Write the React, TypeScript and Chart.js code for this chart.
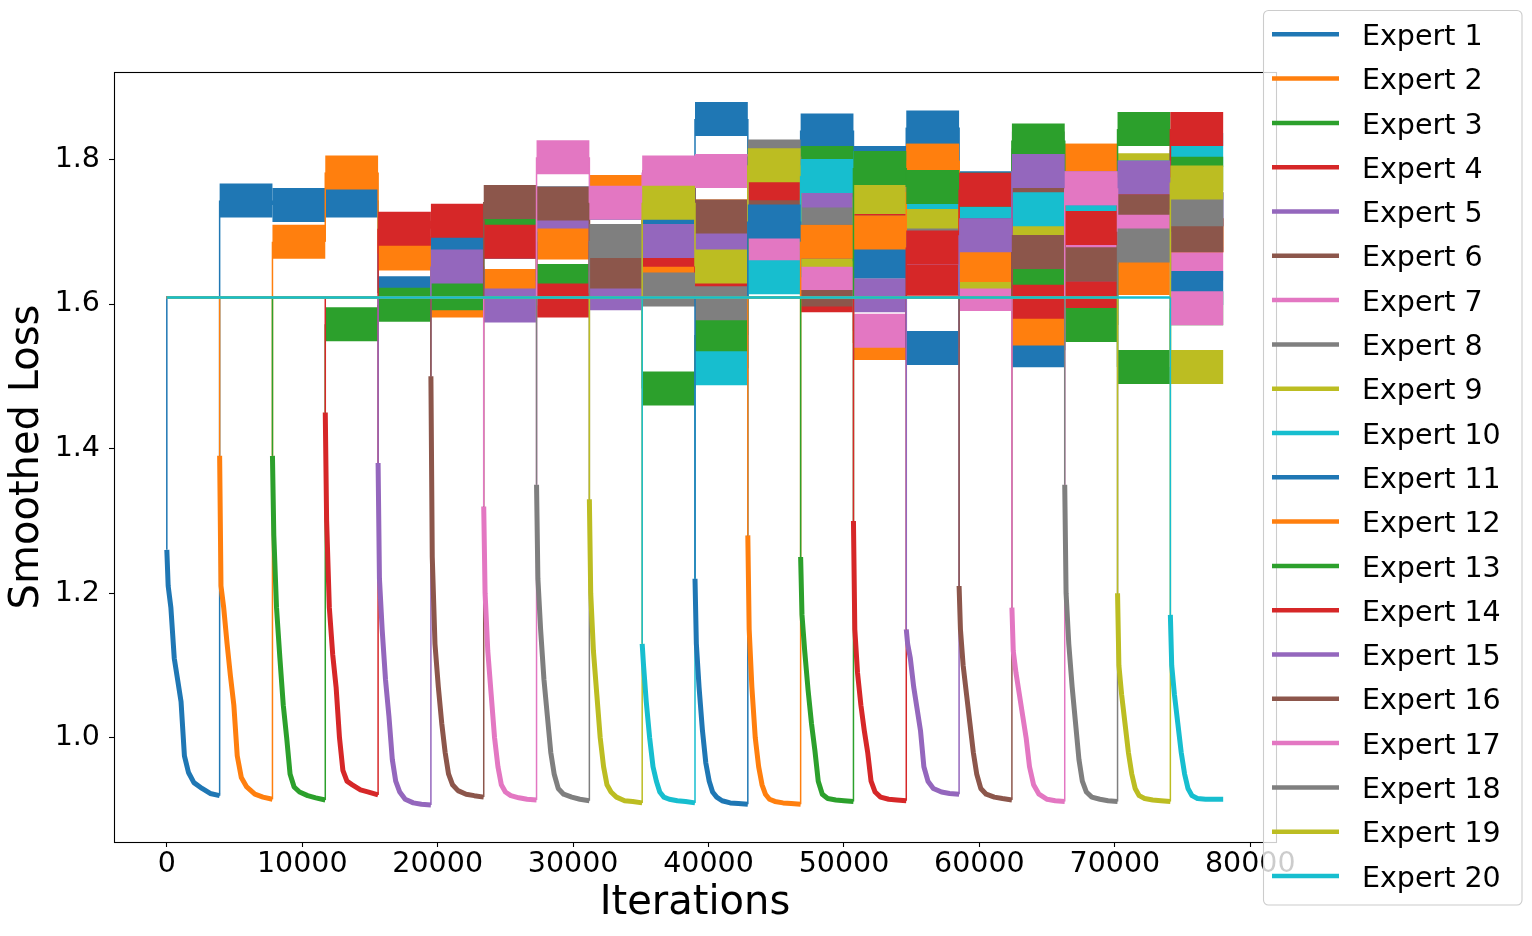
import React, { useEffect, useRef } from "react";
import { Chart, registerables } from "chart.js";

Chart.register(...registerables);

const expertNames = [
  "Expert 1", "Expert 2", "Expert 3", "Expert 4", "Expert 5",
  "Expert 6", "Expert 7", "Expert 8", "Expert 9", "Expert 10",
  "Expert 11", "Expert 12", "Expert 13", "Expert 14", "Expert 15",
  "Expert 16", "Expert 17", "Expert 18", "Expert 19", "Expert 20",
];

const expertColors = [
  "#1f77b4", "#ff7f0e", "#2ca02c", "#d62728", "#9467bd",
  "#8c564b", "#e377c2", "#7f7f7f", "#bcbd22", "#17becf",
  "#1f77b4", "#ff7f0e", "#2ca02c", "#d62728", "#9467bd",
  "#8c564b", "#e377c2", "#7f7f7f", "#bcbd22", "#17becf",
];

// iteration where each expert's training window starts (expert i trains in window i)
const segmentStarts = [
  0, 3900, 7800, 11700, 15600, 19500, 23400, 27300, 31200, 35100, 39000,
  42900, 46800, 50700, 54600, 58500, 62400, 66300, 70200, 74100, 78000,
];

// loss of an expert that has not been trained yet
const untrainedLoss = 1.609;

// iterations into the training window at which the decay curve is read
const decayOffsets = [0, 100, 300, 550, 800, 1050, 1300, 1600, 2000, 2600, 3200, 3900];

// smoothed loss during each expert's own training window
const decayLoss = [
  [1.26, 1.21, 1.18, 1.11, 1.08, 1.05, 0.975, 0.952, 0.938, 0.93, 0.923, 0.92],
  [1.39, 1.21, 1.18, 1.13, 1.085, 1.045, 0.975, 0.945, 0.932, 0.922, 0.918, 0.915],
  [1.39, 1.28, 1.18, 1.11, 1.045, 1.0, 0.95, 0.932, 0.925, 0.92, 0.917, 0.914],
  [1.45, 1.3, 1.18, 1.115, 1.07, 1.0, 0.955, 0.94, 0.935, 0.928, 0.925, 0.921],
  [1.38, 1.22, 1.15, 1.08, 1.03, 0.97, 0.94, 0.925, 0.915, 0.91, 0.908, 0.907],
  [1.5, 1.25, 1.13, 1.07, 1.02, 0.98, 0.95, 0.935, 0.927, 0.922, 0.92, 0.918],
  [1.32, 1.2, 1.12, 1.06, 1.0, 0.96, 0.935, 0.925, 0.92, 0.917, 0.915, 0.914],
  [1.35, 1.22, 1.15, 1.08, 1.03, 0.98, 0.95, 0.93, 0.922, 0.918, 0.915, 0.913],
  [1.33, 1.2, 1.12, 1.06, 1.0, 0.96, 0.935, 0.925, 0.918, 0.913, 0.912, 0.91],
  [1.13, 1.1, 1.05, 1.0, 0.96, 0.94, 0.925, 0.918, 0.915, 0.913, 0.912, 0.91],
  [1.22, 1.13, 1.07, 1.01, 0.965, 0.94, 0.925, 0.918, 0.913, 0.91, 0.909, 0.908],
  [1.28, 1.15, 1.07, 1.0, 0.96, 0.935, 0.922, 0.915, 0.912, 0.91, 0.909, 0.908],
  [1.25, 1.17, 1.12, 1.066, 1.02, 0.983, 0.94, 0.922, 0.916, 0.914, 0.913, 0.912],
  [1.3, 1.15, 1.09, 1.045, 1.01, 0.98, 0.94, 0.925, 0.918, 0.915, 0.914, 0.913],
  [1.15, 1.13, 1.11, 1.07, 1.04, 1.01, 0.96, 0.94, 0.93, 0.925, 0.923, 0.922],
  [1.21, 1.15, 1.1, 1.06, 1.02, 0.98, 0.95, 0.93, 0.922, 0.918, 0.916, 0.914],
  [1.18, 1.12, 1.09, 1.06, 1.03, 1.0, 0.96, 0.935, 0.922, 0.915, 0.913, 0.912],
  [1.35, 1.2, 1.13, 1.07, 1.02, 0.97, 0.94, 0.925, 0.918, 0.915, 0.913, 0.912],
  [1.2, 1.1, 1.06, 1.02, 0.98, 0.95, 0.93, 0.92, 0.916, 0.914, 0.913, 0.912],
  [1.17, 1.1, 1.06, 1.02, 0.98, 0.95, 0.93, 0.92, 0.916, 0.915, 0.915, 0.915],
];

// mean loss of each expert in every later window (noisy band in the plot)
const plateauLoss = [
  [1.743, 1.737, 1.743, 1.615, 1.683, 1.686, 1.739, 1.74, 1.728, 1.856, 1.792, 1.84, 1.795, 1.844, 1.76, 1.784, 1.76, 1.681, 1.731],
  [1.686, 1.782, 1.67, 1.605, 1.625, 1.685, 1.755, 1.65, 1.721, 1.714, 1.686, 1.546, 1.798, 1.654, 1.566, 1.798, 1.636, 1.695],
  [1.572, 1.599, 1.615, 1.7, 1.632, 1.63, 1.483, 1.557, 1.792, 1.795, 1.659, 1.762, 1.695, 1.635, 1.655, 1.513, 1.594],
  [1.704, 1.715, 1.686, 1.605, 1.686, 1.675, 1.625, 1.755, 1.612, 1.73, 1.635, 1.695, 1.672, 1.615, 1.681, 1.695],
  [1.652, 1.598, 1.728, 1.615, 1.687, 1.68, 1.714, 1.746, 1.612, 1.678, 1.695, 1.784, 1.655, 1.775, 1.731],
  [1.741, 1.739, 1.645, 1.762, 1.721, 1.72, 1.62, 1.699, 1.678, 1.695, 1.75, 1.655, 1.728, 1.695],
  [1.803, 1.74, 1.782, 1.784, 1.68, 1.643, 1.563, 1.678, 1.614, 1.672, 1.68, 1.681, 1.656],
  [1.687, 1.62, 1.601, 1.804, 1.71, 1.775, 1.7, 1.695, 1.815, 1.76, 1.681, 1.731],
  [1.74, 1.652, 1.792, 1.675, 1.748, 1.728, 1.645, 1.69, 1.705, 1.785, 1.513],
  [1.511, 1.637, 1.777, 1.788, 1.755, 1.727, 1.731, 1.735, 1.775, 1.813],
  [1.714, 1.686, 1.659, 1.539, 1.695, 1.536, 1.705, 1.681, 1.622],
  [1.686, 1.699, 1.798, 1.654, 1.566, 1.798, 1.636, 1.695],
  [1.788, 1.762, 1.758, 1.826, 1.571, 1.842, 1.78],
  [1.678, 1.758, 1.603, 1.705, 1.748, 1.842],
  [1.695, 1.784, 1.76, 1.775, 1.731],
  [1.672, 1.655, 1.728, 1.695],
  [1.76, 1.7, 1.594],
  [1.681, 1.731],
  [1.768],
  [],
];

const xTicks = [0, 10000, 20000, 30000, 40000, 50000, 60000, 70000, 80000];
const yTicks = [1.0, 1.2, 1.4, 1.6, 1.8];

const FONT = "'DejaVu Sans', sans-serif";

type Kind = "flat" | "drop" | "decay" | "step" | "band";
type Pt = { x: number; y: number; kind: Kind };

const widths: Record<Kind, number> = {
  flat: 2.5,
  drop: 1.5,
  decay: 5,
  step: 1.5,
  band: 34,
};

function buildSeries(e: number): Pt[] {
  const pts: Pt[] = [];
  const t0 = segmentStarts[e];
  if (t0 > 0) {
    pts.push({ x: 0, y: untrainedLoss, kind: "flat" });
  }
  pts.push({ x: t0, y: untrainedLoss, kind: "drop" });
  decayOffsets.forEach((off, i) => {
    pts.push({
      x: t0 + off,
      y: decayLoss[e][i],
      kind: i === decayOffsets.length - 1 ? "step" : "decay",
    });
  });
  plateauLoss[e].forEach((v, j) => {
    const s = e + 1 + j;
    pts.push({ x: segmentStarts[s], y: v, kind: "band" });
    pts.push({ x: segmentStarts[s + 1], y: v, kind: "step" });
  });
  return pts;
}

const kindOf = (ctx: any): Kind =>
  (ctx.chart.data.datasets[ctx.datasetIndex].data[ctx.p0DataIndex] as Pt).kind;

const framePlugin = {
  id: "frameAndLegend",
  // stroke each line a second time right after itself so wide strokes come out solid
  afterDatasetDraw(chart: any, args: any) {
    const line = args.meta.dataset;
    if (line) {
      const { ctx, chartArea } = chart;
      ctx.save();
      ctx.beginPath();
      ctx.rect(chartArea.left, chartArea.top, chartArea.right - chartArea.left, chartArea.bottom - chartArea.top);
      ctx.clip();
      line.draw(ctx, chartArea);
      ctx.restore();
    }
  },
  afterDatasetsDraw(chart: any) {
    const { ctx, chartArea } = chart;
    const l = Math.floor(chartArea.left) + 0.5;
    const t = Math.floor(chartArea.top) + 0.5;
    const r = Math.floor(chartArea.right) + 0.5;
    const b = Math.floor(chartArea.bottom) + 0.5;
    ctx.save();
    ctx.strokeStyle = "#000";
    ctx.lineWidth = 1.1;
    ctx.strokeRect(l, t, r - l, b - t);
    ctx.restore();
  },
  afterDraw(chart: any) {
    const { ctx } = chart;
    ctx.save();
    ctx.beginPath();
    ctx.roundRect(1263.5, 10.5, 258.5, 894.5, 5);
    ctx.fillStyle = "rgba(255,255,255,0.8)";
    ctx.fill();
    ctx.strokeStyle = "#cccccc";
    ctx.lineWidth = 1.1;
    ctx.stroke();
    ctx.font = `28.5px ${FONT}`;
    ctx.textBaseline = "alphabetic";
    ctx.textAlign = "left";
    expertNames.forEach((name, i) => {
      const y = 34.3 + i * 44.3;
      ctx.strokeStyle = expertColors[i];
      ctx.lineWidth = 4.5;
      ctx.lineCap = "butt";
      ctx.beginPath();
      ctx.moveTo(1272, y);
      ctx.lineTo(1339, y);
      ctx.stroke();
      ctx.fillStyle = "#000";
      ctx.fillText(name, 1362, y + 10.6);
    });
    ctx.restore();
  },
};

export default function App() {
  const canvasRef = useRef<HTMLCanvasElement>(null);

  useEffect(() => {
    if (!canvasRef.current) return;
    document.body.style.margin = "0";

    const datasets = expertNames.map((name, i) => ({
      label: name,
      data: buildSeries(i),
      borderColor: expertColors[i],
      backgroundColor: expertColors[i],
      borderWidth: 1.5,
      borderCapStyle: "butt" as const,
      borderJoinStyle: "miter" as const,
      pointRadius: 0,
      pointHoverRadius: 0,
      tension: 0,
      fill: false,
      order: expertNames.length - i,
      segment: {
        borderWidth: (ctx: any) => widths[kindOf(ctx)],
        borderJoinStyle: (ctx: any) => (kindOf(ctx) === "decay" ? "round" : "miter"),
      },
    }));

    const chart = new Chart(canvasRef.current, {
      type: "line",
      data: { datasets },
      options: {
        animation: false,
        responsive: true,
        maintainAspectRatio: false,
        layout: { padding: { top: 72, right: 256, left: 0, bottom: 0 } },
        plugins: {
          legend: { display: false },
          tooltip: { enabled: false },
        },
        events: [],
        scales: {
          x: {
            type: "linear",
            min: -3900,
            max: 81900,
            afterBuildTicks: (s: any) => {
              s.ticks = xTicks.map((v) => ({ value: v }));
            },
            afterFit: (s: any) => {
              s.height = 94;
            },
            ticks: {
              autoSkip: false,
              maxRotation: 0,
              padding: 0,
              color: "#000",
              font: { family: FONT, size: 28.5 },
              callback: (v: any) => String(v),
            },
            grid: {
              drawOnChartArea: false,
              drawTicks: true,
              tickLength: 5,
              tickColor: "#000",
              tickWidth: 1.1,
            },
            border: { display: false },
            title: {
              display: true,
              text: "Iterations",
              color: "#000",
              font: { family: FONT, size: 40 },
              padding: { top: 0, bottom: 8 },
            },
          },
          y: {
            type: "linear",
            min: 0.8559,
            max: 1.9209,
            afterBuildTicks: (s: any) => {
              s.ticks = yTicks.map((v) => ({ value: v }));
            },
            afterFit: (s: any) => {
              s.width = 114;
            },
            ticks: {
              padding: 9,
              color: "#000",
              font: { family: FONT, size: 28.5 },
              callback: (v: any) => Number(v).toFixed(1),
            },
            grid: {
              drawOnChartArea: false,
              drawTicks: true,
              tickLength: 5,
              tickColor: "#000",
              tickWidth: 1.1,
            },
            border: { display: false },
            title: {
              display: true,
              text: "Smoothed Loss",
              color: "#000",
              font: { family: FONT, size: 40 },
              padding: { top: 4, bottom: 0 },
            },
          },
        },
      },
      plugins: [framePlugin],
    });

    return () => {
      chart.destroy();
    };
  }, []);

  return (
    <div style={{ position: "fixed", left: 0, top: 0, width: 1532, height: 936, background: "#fff" }}>
      <canvas ref={canvasRef} />
    </div>
  );
}
